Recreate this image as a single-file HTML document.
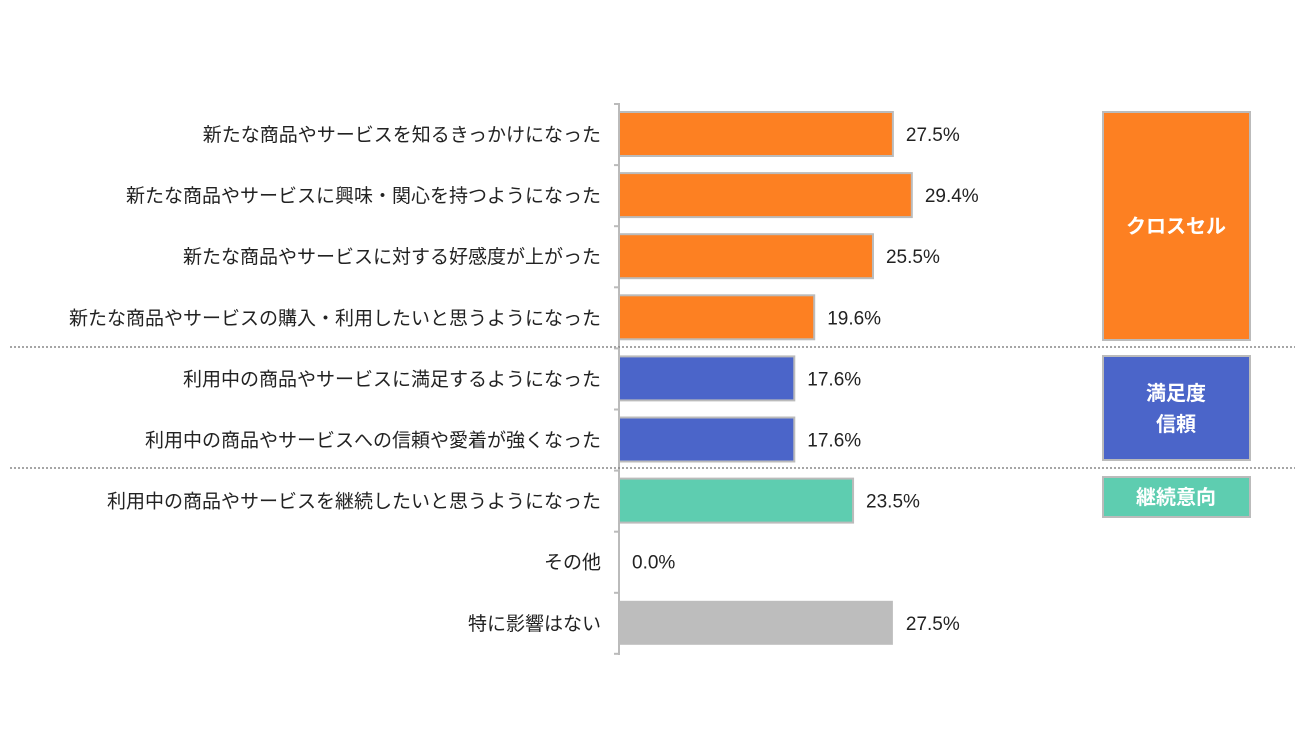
<!DOCTYPE html>
<html><head><meta charset="utf-8">
<style>
body{margin:0;background:#fff;width:1300px;height:750px;overflow:hidden;font-family:"Liberation Sans","Noto Sans CJK JP",sans-serif;}
</style></head>
<body>
<svg id="chart" width="1300" height="750" xmlns="http://www.w3.org/2000/svg" font-family="'Liberation Sans','Noto Sans CJK JP',sans-serif">
<line x1="619" y1="103" x2="619" y2="655" stroke="#bbb" stroke-width="2"/>
<line x1="10" y1="347" x2="1295" y2="347" stroke="#888" stroke-width="1.5" stroke-dasharray="2,2"/>
<line x1="10" y1="468" x2="1295" y2="468" stroke="#888" stroke-width="1.5" stroke-dasharray="2,2"/>
<g>
<rect x="1103" y="112" width="147" height="228" fill="#fd8022" stroke="#bbb" stroke-width="2"/>
<text x="1176" y="233" text-anchor="middle" fill="#fff" font-size="20" font-weight="bold">クロスセル</text></g>
<g>
<rect x="1103" y="356" width="147" height="104" fill="#4b65c9" stroke="#bbb" stroke-width="2"/>
<text x="1176" y="400" text-anchor="middle" fill="#fff" font-size="20" font-weight="bold">満足度</text>
<text x="1176" y="431" text-anchor="middle" fill="#fff" font-size="20" font-weight="bold">信頼</text></g>
<g>
<rect x="1103" y="477" width="147" height="40" fill="#5ecdb0" stroke="#bbb" stroke-width="2"/>
<text x="1176" y="504" text-anchor="middle" fill="#fff" font-size="20" font-weight="bold">継続意向</text></g>
<g id="bars"></g>
</svg>
<script>
const categories=["新たな商品やサービスを知るきっかけになった","新たな商品やサービスに興味・関心を持つようになった","新たな商品やサービスに対する好感度が上がった","新たな商品やサービスの購入・利用したいと思うようになった","利用中の商品やサービスに満足するようになった","利用中の商品やサービスへの信頼や愛着が強くなった","利用中の商品やサービスを継続したいと思うようになった","その他","特に影響はない"];
const values=[27.5,29.4,25.5,19.6,17.6,17.6,23.5,0.0,27.5];
const colors=["#fd8022","#fd8022","#fd8022","#fd8022","#4b65c9","#4b65c9","#5ecdb0","#bdbdbd","#bdbdbd"];
const x0=619, pxPer=9.96;
const xs=v=>x0+v*pxPer;
const ys=i=>134+i*61.1;
const g=document.getElementById('bars');
const NS="http://www.w3.org/2000/svg";
for(let i=0;i<categories.length;i++){
  const y=ys(i);
  const t=document.createElementNS(NS,'line');
  t.setAttribute('x1',614);t.setAttribute('x2',619);t.setAttribute('y1',y-30);t.setAttribute('y2',y-30);t.setAttribute('stroke','#bbb');t.setAttribute('stroke-width','2');
  
  
  g.appendChild(t);
  if(values[i]>0){
    const r=document.createElementNS(NS,'rect');
    r.setAttribute('x',x0);r.setAttribute('y',y-22);r.setAttribute('width',xs(values[i])-x0);r.setAttribute('height',44);
    r.setAttribute('fill',colors[i]);
    if(i<7){r.setAttribute('stroke','#bbb');r.setAttribute('stroke-width','2');}
    
    
    g.appendChild(r);
  }
  const l=document.createElementNS(NS,'text');
  l.setAttribute('x',601);l.setAttribute('y',y+7);l.setAttribute('text-anchor','end');l.setAttribute('font-size','19');l.setAttribute('fill','#222');
  l.textContent=categories[i];
  
  
  g.appendChild(l);
  const v=document.createElementNS(NS,'text');
  v.setAttribute('x',xs(values[i])+13);v.setAttribute('y',y+7);v.setAttribute('font-size','19');v.setAttribute('fill','#222');
  v.textContent=values[i].toFixed(1)+'%';
  
  
  g.appendChild(v);
}
const tEnd=document.createElementNS(NS,'line');
tEnd.setAttribute('x1',614);tEnd.setAttribute('x2',619);tEnd.setAttribute('y1',ys(8)+31);tEnd.setAttribute('y2',ys(8)+31);tEnd.setAttribute('stroke','#bbb');tEnd.setAttribute('stroke-width','2');


g.appendChild(tEnd);
</script>
</body></html>
